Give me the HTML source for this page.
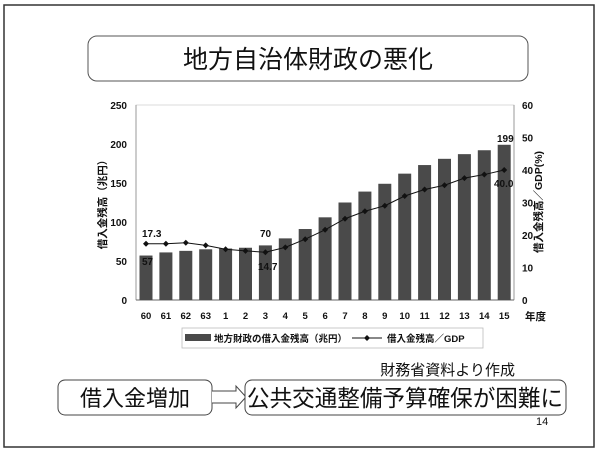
<!DOCTYPE html>
<html><head><meta charset="utf-8"><style>
body{margin:0;background:#fff;}
svg{display:block;}
text{font-family:"Liberation Sans","Noto Sans CJK JP",sans-serif;fill:#111;}
.t{font-weight:bold;}
</style></head><body>
<svg width="600" height="453" viewBox="0 0 600 453" xmlns="http://www.w3.org/2000/svg">
<rect x="4" y="5" width="590" height="442" fill="#fff" stroke="#333" stroke-width="1.5"/>
<rect x="88" y="36" width="440" height="45" rx="9" fill="#fff" stroke="#555" stroke-width="1"/>
<text x="308" y="68" font-size="25" text-anchor="middle">地方自治体財政の悪化</text>
<rect x="136" y="105" width="378" height="195" fill="none" stroke="#ccc" stroke-width="0.7"/>
<line x1="136" y1="105" x2="136" y2="300" stroke="#999"/>
<line x1="514" y1="105" x2="514" y2="300" stroke="#999"/>
<line x1="136" y1="300" x2="514" y2="300" stroke="#666"/>
<g font-size="10" text-anchor="end" class="t">
<text x="127" y="109">250</text><text x="127" y="148">200</text><text x="127" y="187">150</text><text x="127" y="226">100</text><text x="127" y="265">50</text><text x="127" y="304">0</text>
</g>
<g font-size="10" class="t">
<text x="522" y="109">60</text><text x="522" y="141.5">50</text><text x="522" y="174">40</text><text x="522" y="206.5">30</text><text x="522" y="239">20</text><text x="522" y="271.5">10</text><text x="522" y="304">0</text>
</g>
<text transform="translate(106,202) rotate(-90)" font-size="10.5" text-anchor="middle" class="t">借入金残高（兆円）</text>
<text transform="translate(542,202) rotate(-90)" font-size="10.5" text-anchor="middle" class="t">借入金残高／GDP(%)</text>
<g fill="#4a4a4a" id="bars"></g>
<g font-size="9.5" text-anchor="middle" id="xl" class="t"></g>
<polyline id="ln" fill="none" stroke="#111" stroke-width="1"/>
<g id="mk" fill="#111"></g>
<text x="525" y="320" font-size="10.5" class="t">年度</text>
<g font-size="10" class="t">
<text x="142" y="265">57</text>
<text x="142" y="237">17.3</text>
<text x="260" y="237">70</text>
<text x="258" y="270">14.7</text>
<text x="497" y="142">199</text>
<text x="494" y="187">40.0</text>
</g>
<rect x="182" y="328" width="301" height="20" fill="#fff" stroke="#bbb" stroke-width="0.8"/>
<rect x="185" y="334" width="26" height="7" fill="#4a4a4a"/>
<text x="214" y="342" font-size="9.5" class="t">地方財政の借入金残高（兆円）</text>
<line x1="352" y1="338" x2="382" y2="338" stroke="#111"/>
<path d="M367 335 L370 338 L367 341 L364 338Z" fill="#111"/>
<text x="387" y="342" font-size="9.5" class="t">借入金残高／GDP</text>
<text x="515" y="375" font-size="15" text-anchor="end">財務省資料より作成</text>
<rect x="58" y="380" width="154" height="35" rx="7" fill="#fff" stroke="#444"/>
<text x="135" y="406" font-size="22" text-anchor="middle">借入金増加</text>
<path d="M212 391 L236 391 L236 386 L246 397 L236 408 L236 403 L212 403" fill="#fff" stroke="#444"/>
<rect x="245" y="380" width="321" height="35" rx="7" fill="#fff" stroke="#444"/>
<text x="405" y="406" font-size="23" text-anchor="middle" textLength="316" lengthAdjust="spacingAndGlyphs">公共交通整備予算確保が困難に</text>
<text x="536" y="425" font-size="11" font-family="Liberation Serif,serif">14</text>
</svg>
<script>
var b=[57,61,63,65,66,67,70,79,91,106,125,139,149,162,173,181,187,192,199];
var g=[17.3,17.3,17.6,16.8,15.6,15.1,14.7,16.2,18.7,21.6,25,27.3,29,32,34,35.3,37.5,38.6,40.0];
var l=["60","61","62","63","1","2","3","4","5","6","7","8","9","10","11","12","13","14","15"];
var s="",m="",x="",p=[];
for(var i=0;i<19;i++){var c=146+i*19.9;var h=b[i]*0.78;
s+='<rect x="'+(c-6.5)+'" y="'+(300-h)+'" width="13" height="'+h+'"/>';
var y=300-g[i]*3.25;p.push(c+","+y);
m+='<path d="M'+c+' '+(y-3)+' L'+(c+3)+' '+y+' L'+c+' '+(y+3)+' L'+(c-3)+' '+y+'Z"/>';
x+='<text x="'+c+'" y="319">'+l[i]+'</text>';}
document.getElementById("bars").innerHTML=s;
document.getElementById("mk").innerHTML=m;
document.getElementById("xl").innerHTML=x;
document.getElementById("ln").setAttribute("points",p.join(" "));
</script>
</body></html>
